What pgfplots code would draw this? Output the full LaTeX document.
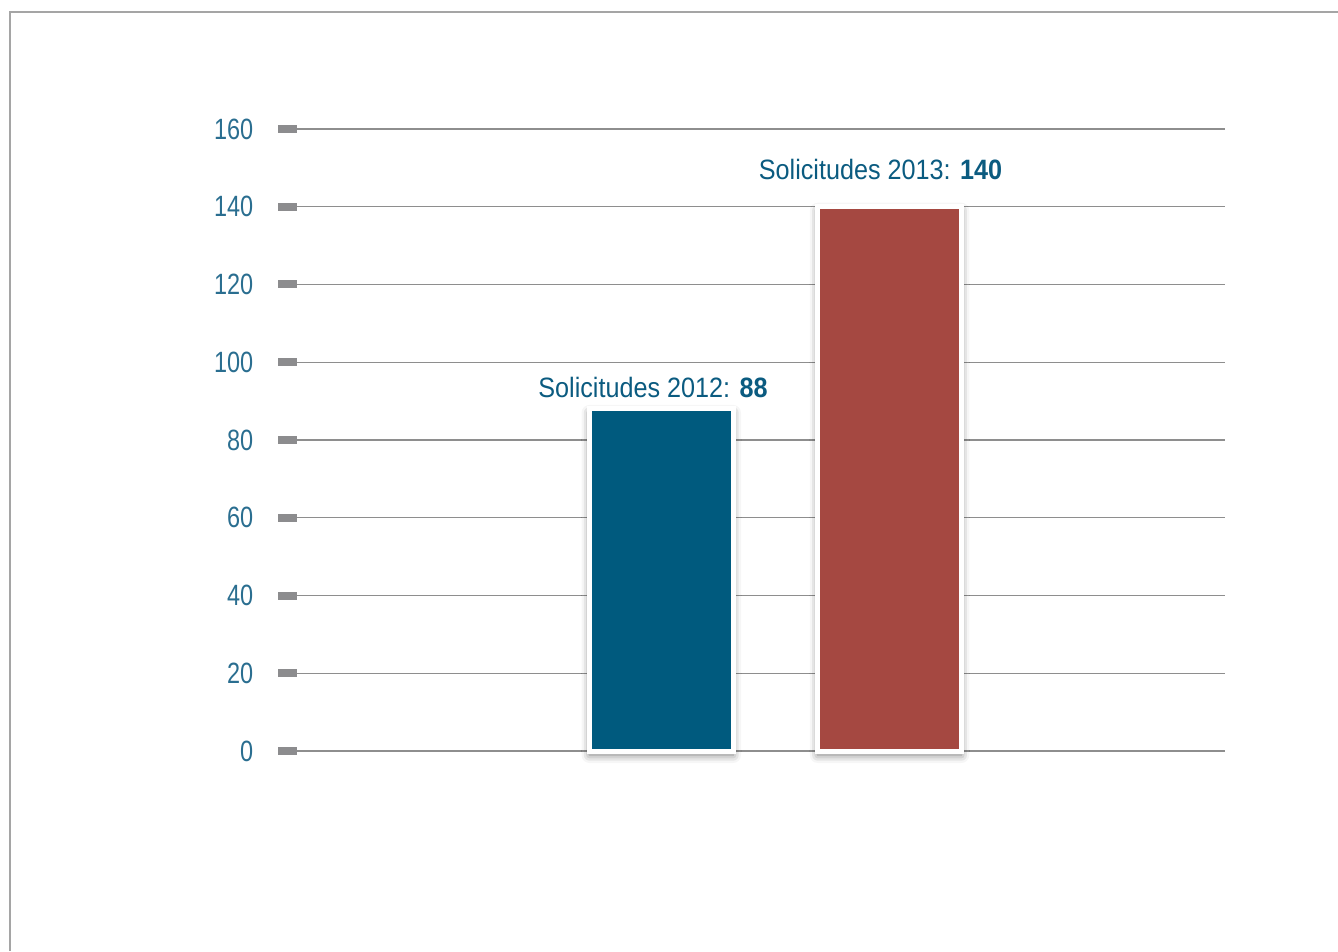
\documentclass[border=0pt]{standalone}
\usepackage{fontspec}
\setmainfont{Liberation Sans}[FakeStretch=0.9]
\newfontfamily\tickfont{Liberation Sans}[FakeStretch=0.8]
\usepackage{pgfplots}
\pgfplotsset{compat=1.18}
\usetikzlibrary{shadows.blur}
\definecolor{barblue}{HTML}{005A7E}
\definecolor{barred}{HTML}{A54841}
\definecolor{txtblue}{HTML}{0B5B80}
\definecolor{tickblue}{HTML}{2A6E90}
\definecolor{gridgray}{HTML}{8E8E8E}
\definecolor{tickgray}{HTML}{8C8C8E}
\begin{document}
\begin{tikzpicture}
\path[use as bounding box] (0,0) rectangle (1003.5pt,713.25pt);
\draw[color=gridgray!80, line width=1.5pt] (7.5pt,0) -- (7.5pt,704.25pt) -- (1003.5pt,704.25pt);
\begin{axis}[
  at={(222.75pt,150pt)}, anchor=origin,
  scale only axis, width=696pt, height=466.5pt,
  xmin=0, xmax=928, ymin=0, ymax=160,
  ytick={0,20,...,160}, xtick=\empty,
  axis line style={draw=none},
  ymajorgrids, grid style={gridgray, line width=0.9pt},
  tick align=outside, ytick pos=left,
  major tick length=14.25pt,
  ytick style={draw=tickgray, line width=6pt},
  /pgf/number format/assume math mode=true,
  yticklabel style={font=\tickfont\fontsize{22pt}{24pt}\selectfont, text=tickblue, anchor=east, xshift=-15pt},
  clip=false,
]
\addplot[ybar, bar shift=0pt, bar width=143.5, fill=barblue, draw=white, line width=3.75pt,
  blur shadow={shadow xshift=0pt, shadow yshift=-3pt, shadow blur radius=6pt, shadow opacity=55}]
  coordinates {(364.25,88)};
\addplot[ybar, bar shift=0pt, bar width=143.5, fill=barred, draw=white, line width=3.75pt,
  blur shadow={shadow xshift=0pt, shadow yshift=-3pt, shadow blur radius=6pt, shadow opacity=55}]
  coordinates {(592.5,140)};
\node[font=\fontsize{21pt}{24pt}\selectfont, text=txtblue] at (axis cs:356,93.6) {Solicitudes 2012: \textbf{88}};
\node[font=\fontsize{21pt}{24pt}\selectfont, text=txtblue] at (axis cs:583.5,149.5) {Solicitudes 2013: \textbf{140}};
\end{axis}
\end{tikzpicture}
\end{document}
